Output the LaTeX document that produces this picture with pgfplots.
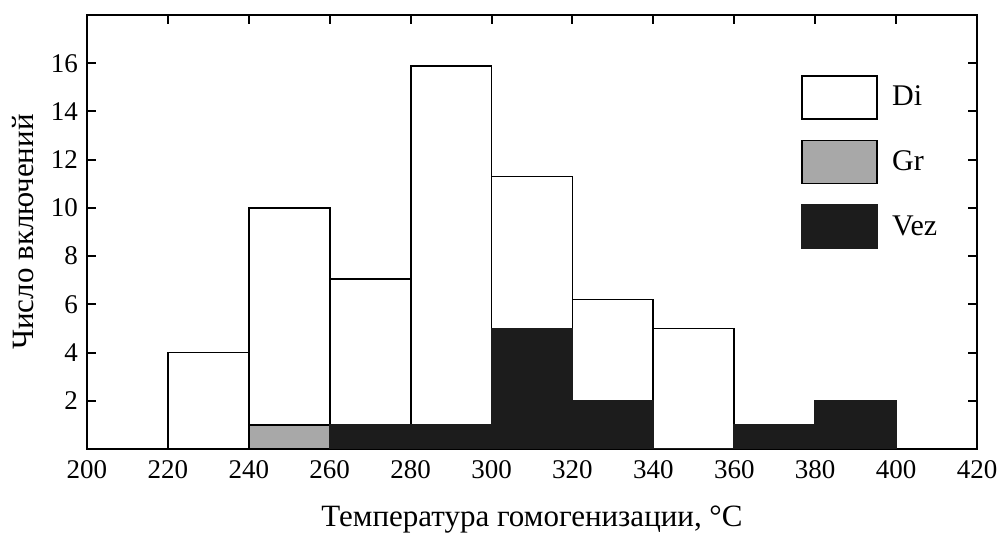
\documentclass[border=0pt]{standalone}
\usepackage{fontspec}
\setmainfont{Liberation Serif}
\usepackage{pgfplots}
\pgfplotsset{compat=1.18}
\definecolor{vez}{HTML}{1C1C1C}
\definecolor{gr}{HTML}{A8A8A8}
\begin{document}
\begin{tikzpicture}
\begin{axis}[
  name=ax,
  width=445pt, height=217pt, scale only axis,
  xmin=200, xmax=420, ymin=0, ymax=18,
  xtick={200,220,...,420},
  xticklabels={200,220,240,260,280,300,320,340,360,380,400,420},
  ytick={2,4,...,16},
  yticklabels={2,4,6,8,10,12,14,16},
  xtick pos=upper, xticklabel pos=lower,
  ytick pos=both, yticklabel pos=left,
  tick align=inside,
  major tick length=4.5pt,
  tick style={line width=1pt, black},
  axis line style={line width=1.2pt},
  ticklabel style={font=\rmfamily\fontsize{13.5}{15}\selectfont},
  xticklabel style={yshift=-2pt},
  yticklabel style={xshift=-1pt},
  xlabel={Температура гомогенизации, °C},
  ylabel={Число включений},
  label style={font=\rmfamily\fontsize{15.5}{17}\selectfont},
  xlabel style={at={(axis description cs:0.5,-0.1636)}, anchor=center},
  ylabel style={at={(axis description cs:-0.0719,0.5)}, anchor=center},
  legend style={draw=none, fill=none, at={(axis cs:375,15.7)}, anchor=north west,
    font=\rmfamily\fontsize{15}{17}\selectfont, row sep=10pt,
    /tikz/every odd column/.append style={column sep=5pt}},
  legend cell align=left,
  legend image code/.code={\draw[#1, line width=0.9pt] (0pt,-10.75pt) rectangle (37.5pt,10.75pt);},
]
\addplot[ybar interval, fill=white, draw=black, line width=0.9pt] coordinates {
  (220,4) (240,10) (260,7.05) (280,15.9) (300,11.3) (320,6.2) (340,5) (360,5)
};
\addlegendentry{Di}
\addplot[ybar interval, fill=gr, draw=black, line width=0.9pt] coordinates {
  (240,1) (260,1)
};
\addlegendentry{Gr}
\addplot[ybar interval, fill=vez, draw=vez, line width=0.9pt] coordinates {
  (260,1) (280,1) (300,5) (320,2) (340,0) (360,1) (380,2) (400,2)
};
\addlegendentry{Vez}
\end{axis}
\pgfresetboundingbox
\path[use as bounding box] ([shift={(-43.5pt,-43pt)}]ax.south west) rectangle ([shift={(10pt,7.5pt)}]ax.north east);
\end{tikzpicture}
\end{document}
